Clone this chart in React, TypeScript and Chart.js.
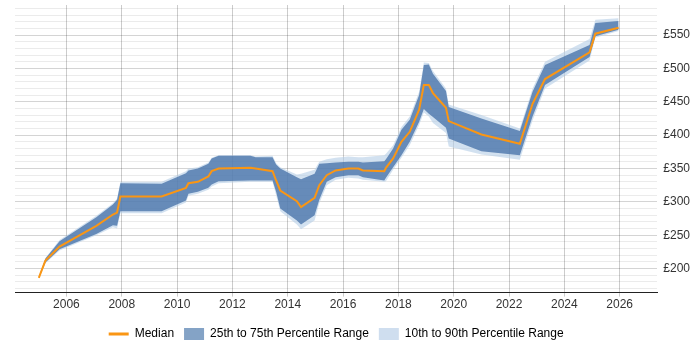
import React, { useEffect, useRef } from 'react';
import { Chart, registerables } from 'chart.js';

Chart.register(...registerables);

const years = [
  2005.0, 2005.24, 2005.75, 2007.08, 2007.68, 2007.83, 2007.95, 2009.44, 2010.32, 2010.41,
  2010.75, 2011.13, 2011.25, 2011.5, 2012.65, 2012.84, 2013.45, 2013.58, 2013.73, 2014.33,
  2014.48, 2014.97, 2015.14, 2015.41, 2015.73, 2016.19, 2016.55, 2016.72, 2017.49, 2017.55,
  2017.81, 2018.11, 2018.41, 2018.75, 2018.92, 2019.1, 2019.25, 2019.72, 2019.82, 2021.0,
  2022.39, 2022.85, 2023.3, 2024.91, 2025.12, 2025.96,
];

const median = [
  186, 212, 233, 264, 281, 284, 308, 308, 321, 328,
  330, 338, 346, 350, 351, 350, 346, 332, 317, 301,
  292, 306, 325, 340, 347, 350, 350, 347, 346, 351,
  365, 390, 405, 438, 475, 475, 463, 441, 421, 401,
  387, 447, 484, 524, 552, 561,
];

const p25 = [
  186, 209, 229, 252, 265, 264, 286, 286, 302, 312,
  315, 321, 326, 331, 332, 332, 332, 315, 290, 272,
  266, 280, 303, 330, 337, 340, 340, 337, 332, 336,
  352, 370, 390, 420, 439, 432, 427, 411, 395, 376,
  370, 428, 475, 517, 548, 558,
];

const p75 = [
  187, 215, 241, 277, 296, 303, 328, 327, 343, 347,
  350, 357, 365, 369, 369, 367, 367, 356, 350, 337,
  334, 342, 357, 358, 359, 360, 360, 359, 361, 364,
  380, 408, 423, 460, 505, 506, 492, 466, 442, 425,
  406, 465, 505, 535, 568, 571,
];

const p10 = [
  185, 208, 227, 250, 262, 260, 283, 283, 299, 309,
  312, 318, 323, 328, 330, 330, 330, 310, 286, 266,
  259, 272, 298, 325, 333, 336, 335, 333, 330, 331,
  348, 366, 385, 415, 434, 428, 418, 403, 383, 371,
  363, 422, 470, 512, 546, 556,
];

const p90 = [
  188, 216, 243, 279, 298, 305, 330, 330, 346, 350,
  352, 359, 366, 370, 370, 368, 369, 358, 352, 341,
  342, 348, 360, 364, 366, 368, 367, 367, 370, 372,
  385, 412, 428, 465, 509, 508, 496, 470, 446, 430,
  410, 470, 510, 544, 573, 575,
];

const xTickYears = [2006, 2008, 2010, 2012, 2014, 2016, 2018, 2020, 2022, 2024, 2026];
const yTickValues = [
  170, 180, 190, 200, 210, 220, 230, 240, 250, 260, 270, 280, 290, 300, 310, 320, 330, 340,
  350, 360, 370, 380, 390, 400, 410, 420, 430, 440, 450, 460, 470, 480, 490, 500, 510, 520,
  530, 540, 550, 560, 570, 580, 590,
];
const yLabelStep = 50;

const seriesNames = ['Median', '25th to 75th Percentile Range', '10th to 90th Percentile Range'];

const ORANGE = 'rgb(250,150,20)';
const DARK_FILL = 'rgba(65,110,165,0.75)';
const LIGHT_FILL = 'rgba(180,205,230,0.6)';
const DARK_LEGEND = '#84a3c6';
const LIGHT_LEGEND = '#cfdeef';

function pts(vals: number[]) {
  return years.map((x, i) => ({ x, y: vals[i] }));
}

export default function App() {
  const ref = useRef<HTMLCanvasElement | null>(null);

  useEffect(() => {
    document.body.style.margin = '0';
    const canvas = ref.current;
    if (!canvas) return;
    Chart.defaults.font.family = '"Liberation Sans", Arial, sans-serif';
    Chart.defaults.font.size = 12;
    Chart.defaults.color = '#333';

    const chart = new Chart(canvas, {
      type: 'line',
      data: {
        datasets: [
          {
            label: seriesNames[0],
            data: pts(median),
            borderColor: ORANGE,
            backgroundColor: ORANGE,
            borderWidth: 2,
            pointRadius: 0,
            fill: false,
          },
          {
            label: seriesNames[1],
            data: pts(p75),
            borderWidth: 0,
            borderColor: 'rgba(0,0,0,0)',
            backgroundColor: DARK_FILL,
            pointRadius: 0,
            fill: 2,
          },
          {
            label: 'p25',
            data: pts(p25),
            borderWidth: 0,
            borderColor: 'rgba(0,0,0,0)',
            pointRadius: 0,
            fill: false,
          },
          {
            label: seriesNames[2],
            data: pts(p90),
            borderWidth: 0,
            borderColor: 'rgba(0,0,0,0)',
            backgroundColor: LIGHT_FILL,
            pointRadius: 0,
            fill: 4,
          },
          {
            label: 'p10',
            data: pts(p10),
            borderWidth: 0,
            borderColor: 'rgba(0,0,0,0)',
            pointRadius: 0,
            fill: false,
          },
        ],
      },
      options: {
        animation: false,
        responsive: true,
        maintainAspectRatio: false,
        layout: { padding: { left: 15, right: 4, top: 5, bottom: 0 } },
        plugins: {
          tooltip: { enabled: false },
          legend: {
            position: 'bottom',
            fullSize: false,
            labels: {
              usePointStyle: true,
              pointStyleWidth: 20,
              boxHeight: 12,
              padding: 10,
              color: '#333',
              font: { size: 12 },
              generateLabels: () => [
                {
                  text: seriesNames[0],
                  pointStyle: 'line',
                  strokeStyle: ORANGE,
                  fillStyle: ORANGE,
                  lineWidth: 3,
                  hidden: false,
                  datasetIndex: 0,
                },
                {
                  text: seriesNames[1],
                  pointStyle: 'rect',
                  fillStyle: DARK_LEGEND,
                  strokeStyle: DARK_LEGEND,
                  lineWidth: 0,
                  hidden: false,
                  datasetIndex: 1,
                },
                {
                  text: seriesNames[2],
                  pointStyle: 'rect',
                  fillStyle: LIGHT_LEGEND,
                  strokeStyle: LIGHT_LEGEND,
                  lineWidth: 0,
                  hidden: false,
                  datasetIndex: 3,
                },
              ],
            },
          },
        },
        scales: {
          x: {
            type: 'linear',
            min: 2004.14,
            max: 2027.36,
            afterBuildTicks: (axis: any) => {
              axis.ticks = xTickYears.map((v) => ({ value: v }));
            },
            afterFit: (axis: any) => {
              axis.height += 5;
            },
            ticks: {
              padding: 1,
              maxRotation: 0,
              autoSkip: false,
              callback: (v: any) => String(v),
            },
            grid: {
              color: 'rgba(0,0,0,0.2)',
              tickLength: 4,
              drawTicks: true,
            },
            border: { display: true, color: '#222', width: 1 },
          },
          y: {
            type: 'linear',
            position: 'right',
            min: 164,
            max: 595,
            afterBuildTicks: (axis: any) => {
              axis.ticks = yTickValues.map((v) => ({ value: v }));
            },
            afterFit: (axis: any) => {
              axis.paddingTop = 0;
              axis.paddingBottom = 0;
            },
            ticks: {
              padding: 6,
              autoSkip: false,
              callback: (v: any) => (Number(v) % yLabelStep === 0 ? '£' + v : ''),
            },
            grid: {
              drawTicks: false,
              color: (ctx: any) =>
                ctx.tick && ctx.tick.value % yLabelStep === 0 ? 'rgba(0,0,0,0.17)' : 'rgba(0,0,0,0.08)',
            },
            border: { display: false },
          },
        },
      },
    });
    return () => chart.destroy();
  }, []);

  return (
    <div style={{ position: 'relative', width: 700, height: 350 }}>
      <canvas ref={ref} />
    </div>
  );
}
